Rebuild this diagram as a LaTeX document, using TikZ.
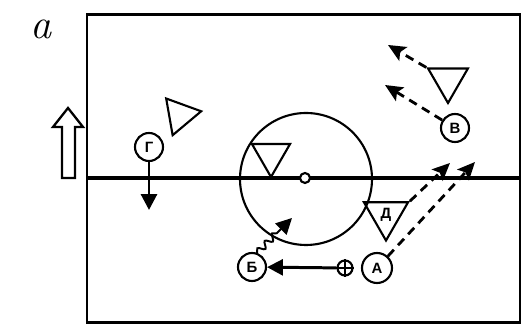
\documentclass[tikz,border=0pt]{standalone}
\usepackage{fontspec}
\newfontfamily\cyrfont{Liberation Sans}
\usetikzlibrary{arrows.meta, shapes.geometric, decorations.pathmorphing}

\begin{document}
\begin{tikzpicture}[
    player/.style={
        circle, draw, line width=1.2pt,
        minimum size=0.56cm, inner sep=0pt,
        font=\cyrfont\bfseries\fontsize{8.5}{9}\selectfont
    },
    opp/.style={
        regular polygon, regular polygon sides=3,
        draw, line width=1.2pt, inner sep=0pt
    },
    passarr/.style={
        -{Triangle[length=9pt,width=9pt]},
        line width=1.7pt
    },
    runarr/.style={
        dash pattern=on 5pt off 3.5pt,
        -{Stealth[length=10pt,width=9pt,inset=2pt]},
        line width=1.6pt
    },
    dribble/.style={
        decorate,
        decoration={snake, amplitude=1.8pt, segment length=6pt, post length=10pt},
        -{Triangle[length=9pt,width=9pt]},
        line width=1.1pt
    }
]
\useasboundingbox (0,0) rectangle (10.44,6.5);

%% ── Field ───────────────────────────────────────────────────────────
\draw[line width=1.7pt] (1.74,0.04) rectangle (10.40,6.20);
\draw[line width=1.9pt] (1.74,2.94) -- (10.40,2.94);
\node[circle, draw, line width=1.2pt, minimum size=2.64cm] (zone) at (6.12,2.92) {};
\node[circle, draw, fill=white, line width=1.2pt, minimum size=0.2cm, inner sep=0pt] (ctr) at (6.10,2.94) {};

%% ── Label and direction ─────────────────────────────────────────────
\node[font=\fontsize{24}{26}\selectfont\itshape] (lbl) at (0.82,5.92) {a};
\draw[line width=1.3pt, line join=miter]
    (1.24,2.94) -- (1.50,2.94) -- (1.50,3.96) -- (1.66,3.96)
    -- (1.36,4.34) -- (1.06,3.96) -- (1.24,3.96) -- cycle;

%% ── Opponents ───────────────────────────────────────────────────────
\node[opp, minimum size=0.86cm, rotate=-80] (t1) at (3.60,4.20) {};
\node[opp, minimum size=0.92cm, shape border rotate=180] (t2) at (8.96,4.90) {};
\node[opp, minimum size=0.88cm, shape border rotate=180] (t3) at (5.42,3.40) {};
\node[opp, minimum size=1.02cm, shape border rotate=180,
      font=\cyrfont\bfseries\fontsize{8.5}{9}\selectfont] (tD) at (7.72,2.20) {Д};

%% ── Players ─────────────────────────────────────────────────────────
\node[player] (pG) at (2.98,3.56) {Г};
\node[player] (pV) at (9.10,3.94) {В};
\node[player] (pB) at (5.04,1.16) {Б};
\node[player, minimum size=0.6cm] (pA) at (7.54,1.14) {А};
\node[circle, draw, line width=1.2pt, minimum size=0.3cm, inner sep=0pt] (ball) at (6.90,1.14) {};
\draw[line width=1.1pt] (ball.north) -- (ball.south) (ball.west) -- (ball.east);

%% ── Moves ───────────────────────────────────────────────────────────
\coordinate (gEnd) at (2.98,2.30);
\coordinate (bEnd) at (5.84,2.14);
\coordinate (t2End) at (7.76,5.60);
\coordinate (vEnd) at (7.70,4.80);
\coordinate (dEnd) at (9.00,3.24);
\coordinate (aEnd) at (9.50,3.26);

\draw[passarr] (pG) -- (gEnd);
\draw[passarr] (ball) -- (pB);
\draw[dribble] (pB.70) -- (bEnd);

\draw[runarr] (t2.150) -- (t2End);
\draw[runarr] (pV) -- (vEnd);
\draw[runarr] (tD.30) -- (dEnd);
\draw[runarr] (pA) -- (aEnd);

\end{tikzpicture}
\end{document}
